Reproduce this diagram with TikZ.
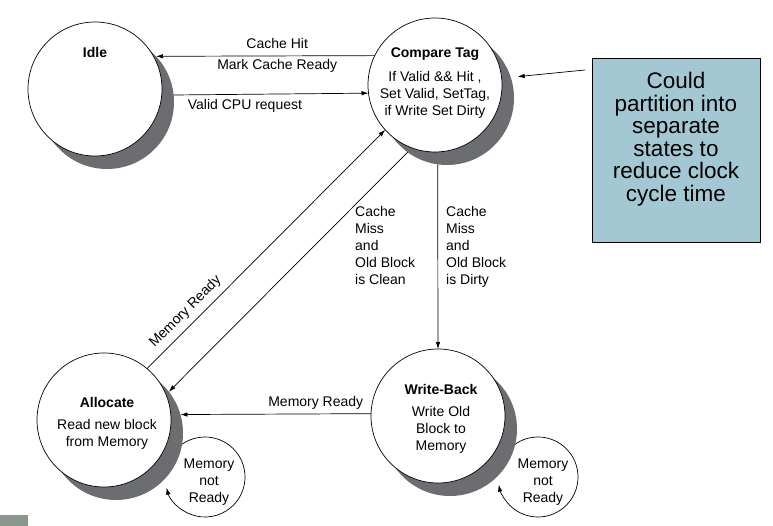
\documentclass[tikz,border=0pt]{standalone}
\usepackage{fontspec}
\setmainfont{Liberation Sans}
\usepackage{xcolor}
\usepackage{tikz}
\usetikzlibrary{arrows.meta,backgrounds}
\definecolor{shadowgray}{RGB}{108,109,113}
\definecolor{noteblue}{RGB}{164,200,211}
\definecolor{cornergray}{RGB}{139,151,141}

\tikzset{
  state/.style={circle, draw, fill=white, minimum size=134pt, inner sep=0pt, outer sep=0pt, line width=0.7pt},
  stateshadow/.style={circle, fill=shadowgray, minimum size=134pt, inner sep=0pt, outer sep=0pt},
  loopring/.style={circle, minimum size=80pt, inner sep=0pt, outer sep=0pt},
  statename/.style={font=\fontsize{14}{17}\selectfont\bfseries, inner sep=0pt},
  statebody/.style={font=\fontsize{14}{17}\selectfont, align=center, inner sep=0pt},
  edgetext/.style={font=\fontsize{14}{17}\selectfont, inner sep=0pt},
  trans/.style={line width=0.7pt, -{Latex[length=7pt,width=4.5pt]}}
}

\begin{document}
\begin{tikzpicture}[x=1pt, y=-1pt]
\useasboundingbox (0,0) rectangle (773,526);
\fill[cornergray] (0,515) rectangle (28,526);

% self loops behind the states
\node (aloop) at (205,477) [loopring] {};
\node (wloop) at (538,477) [loopring] {};
\begin{scope}[on background layer]
\draw[trans] (aloop.130) arc[start angle=130, end angle=-164.6, radius=40pt];
\draw[trans] (wloop.130) arc[start angle=130, end angle=-169, radius=40pt];
\end{scope}
\node (alooptext) at (209,482) [statebody] {Memory\\not\\Ready};
\node (wlooptext) at (543,482) [statebody] {Memory\\not\\Ready};

% states
\node (idlesh) at (107,102) [stateshadow] {};
\node (idle) at (95,89) [state] {};
\node (ctsh) at (447,98) [stateshadow] {};
\node (ct) at (435,85) [state] {};
\node (alsh) at (116,433) [stateshadow] {};
\node (al) at (104,420) [state] {};
\node (wbsh) at (450,429) [stateshadow] {};
\node (wb) at (438,416) [state] {};

\node (idlename) at (95,53) [statename] {Idle};
\node (ctname) at (435,54) [statename] {Compare Tag};
\node (ctbody) at (435,95) [statebody] {If Valid \&\& Hit ,\\Set Valid, SetTag,\\if Write Set Dirty};
\node (alname) at (107,402) [statename] {Allocate};
\node (albody) at (107,434) [statebody] {Read new block\\from Memory};
\node (wbname) at (441,389) [statename] {Write-Back};
\node (wbbody) at (441,430) [statebody] {Write Old\\Block to\\Memory};

% transitions
\draw[trans] (ct.154.35) -- (idlesh.43.36)
  node[edgetext, pos=0.446, above=7pt] {Cache Hit}
  node[edgetext, pos=0.446, below=3pt] {Mark Cache Ready};
\draw[trans] (idlesh.6.86) -- (ct.187.72)
  node[edgetext, pos=0.366, below=5pt] {Valid CPU request};
\draw[trans] (al.50.5) -- (ct.222)
  node[edgetext, pos=0.2, above=6pt, sloped] {Memory Ready};
\draw[trans] (ctsh.234.1) -- (alsh.38.3);
\draw[trans] (ctsh.262.3) -- (wb.north);
\draw[trans] (wb.178.3) -- (alsh.16.5)
  node[edgetext, pos=0.29, above=4pt] {Memory Ready};

\node (cleantext) at (355,206) [edgetext, anchor=north west, align=left] {Cache\\Miss\\and\\Old Block\\is Clean};
\node (dirtytext) at (446,206) [edgetext, anchor=north west, align=left] {Cache\\Miss\\and\\Old Block\\is Dirty};

% note box
\node (note) at (676,150) [draw, fill=noteblue, minimum width=168pt, minimum height=184pt, line width=0.8pt] {};
\node (notetext) at (676,139) [font=\fontsize{22.5}{22.5}\selectfont, align=center, inner sep=0pt] {Could\\partition into\\separate\\states to\\reduce clock\\cycle time};
\coordinate (notetail) at (585,70);
\draw[trans, shorten >=7pt] (notetail) -- (ctsh.18);

\end{tikzpicture}
\end{document}
